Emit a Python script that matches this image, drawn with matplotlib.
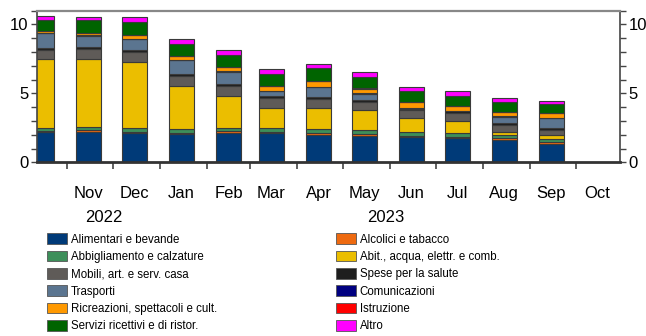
import datetime as dt
import matplotlib
matplotlib.use("Agg")
import matplotlib.pyplot as plt
import matplotlib.dates as mdates
import matplotlib.transforms as mtransforms
from matplotlib import font_manager
from matplotlib.patches import Patch
from matplotlib.ticker import MultipleLocator, FixedLocator, FixedFormatter, NullFormatter

# Condensed sans if available
_names = {f.name for f in font_manager.fontManager.ttflist}
FONT = "Liberation Sans Narrow" if "Liberation Sans Narrow" in _names else "Liberation Sans"
plt.rcParams["font.family"] = [FONT, "DejaVu Sans"]

# Months of the bars (Oct 2022 - Sep 2023)
bar_months = [(2022, 10), (2022, 11), (2022, 12), (2023, 1), (2023, 2), (2023, 3),
              (2023, 4), (2023, 5), (2023, 6), (2023, 7), (2023, 8), (2023, 9)]

# Month labels on the axis (Nov 2022 - Oct 2023)
label_months = [(2022, 11), (2022, 12), (2023, 1), (2023, 2), (2023, 3), (2023, 4),
                (2023, 5), (2023, 6), (2023, 7), (2023, 8), (2023, 9), (2023, 10)]
month_labels = ["Nov", "Dec", "Jan", "Feb", "Mar", "Apr", "May", "Jun", "Jul", "Aug", "Sep", "Oct"]
year_labels = ["2022", "2023"]

# Contributions by component (percentage points), stacked bottom to top
alimentari = [2.18, 2.21, 2.11, 2.04, 2.11, 2.09, 1.99, 1.92, 1.80, 1.75, 1.63, 1.36]
alcolici = [0.12, 0.10, 0.12, 0.10, 0.15, 0.14, 0.12, 0.12, 0.12, 0.12, 0.10, 0.12]
abbigliamento = [0.19, 0.26, 0.24, 0.29, 0.26, 0.29, 0.27, 0.29, 0.30, 0.24, 0.24, 0.19]
abitazione = [5.00, 4.93, 4.80, 3.08, 2.26, 1.44, 1.53, 1.46, 1.02, 0.92, 0.24, 0.30]
mobili = [0.63, 0.73, 0.70, 0.78, 0.75, 0.72, 0.68, 0.60, 0.54, 0.54, 0.51, 0.38]
salute = [0.15, 0.12, 0.15, 0.14, 0.13, 0.13, 0.14, 0.15, 0.12, 0.12, 0.15, 0.12]
trasporti = [1.11, 0.85, 0.80, 0.97, 0.92, 0.36, 0.73, 0.44, 0.05, 0.04, 0.44, 0.72]
comunicazioni = [0.02, 0.02, 0.02, 0.02, 0.02, 0.02, 0.02, 0.02, 0.02, 0.02, 0.02, 0.02]
ricreazioni = [0.12, 0.17, 0.27, 0.27, 0.29, 0.34, 0.41, 0.34, 0.41, 0.34, 0.32, 0.34]
istruzione = [0.02, 0.02, 0.02, 0.02, 0.02, 0.02, 0.02, 0.02, 0.02, 0.02, 0.02, 0.02]
servizi = [0.80, 0.95, 0.92, 0.87, 0.90, 0.87, 0.90, 0.82, 0.75, 0.73, 0.68, 0.63]
altro = [0.29, 0.21, 0.36, 0.34, 0.31, 0.32, 0.29, 0.34, 0.33, 0.34, 0.29, 0.27]

series = [
    ("Alimentari e bevande", alimentari, "#003a78"),
    ("Alcolici e tabacco", alcolici, "#ee6a10"),
    ("Abbigliamento e calzature", abbigliamento, "#3d8f5a"),
    ("Abit., acqua, elettr. e comb.", abitazione, "#ebbe00"),
    ("Mobili, art. e serv. casa", mobili, "#5f5b58"),
    ("Spese per la salute", salute, "#1e1e1e"),
    ("Trasporti", trasporti, "#5b7590"),
    ("Comunicazioni", comunicazioni, "#000080"),
    ("Ricreazioni, spettacoli e cult.", ricreazioni, "#ff9900"),
    ("Istruzione", istruzione, "#ff0000"),
    ("Servizi ricettivi e di ristor.", servizi, "#006400"),
    ("Altro", altro, "#ff00ff"),
]

W, H = 646, 336
fig = plt.figure(figsize=(W / 100, H / 100), dpi=100)
ax = fig.add_axes([37 / W, 1 - 162.3 / H, (620 - 37) / W, (162.3 - 10.7) / H])

x = [mdates.date2num(dt.datetime(y, m, 15)) for y, m in bar_months]
bottom = [0.0] * len(x)
for name, vals, color in series:
    ax.bar(x, vals, width=16.5, bottom=bottom, color=color, edgecolor="#3a3a3a",
           linewidth=0.8, label=name, zorder=2)
    bottom = [b + v for b, v in zip(bottom, vals)]

ax.set_xlim(mdates.date2num(dt.datetime(2022, 10, 12)), mdates.date2num(dt.datetime(2023, 10, 30)))
ax.set_ylim(0, 11)

# Axis frame
for side in ("left", "right"):
    ax.spines[side].set_color("#444444")
    ax.spines[side].set_linewidth(1.2)
ax.spines["top"].set_color("#888888")
ax.spines["top"].set_linewidth(1.6)
ax.spines["bottom"].set_color("#333333")
ax.spines["bottom"].set_linewidth(2.0)

# Y axis: labels on both sides, ticks every unit
ax.yaxis.set_major_locator(FixedLocator([0, 5, 10]))
ax.yaxis.set_minor_locator(MultipleLocator(1))
ax.tick_params(axis="y", which="both", left=True, right=True, labelleft=True,
               labelright=True, direction="out", length=4, width=1.0,
               color="#444444", labelsize=12, pad=2)

# X axis: ticks at month starts, labels at mid-month
starts = [mdates.date2num(dt.datetime(2022 + (9 + i) // 12, (9 + i) % 12 + 1, 1)) for i in range(14)]
ax.xaxis.set_major_locator(FixedLocator(starts))
ax.xaxis.set_major_formatter(NullFormatter())
mids = [mdates.date2num(dt.datetime(y, m, 15)) for y, m in label_months]
ax.xaxis.set_minor_locator(FixedLocator(mids))
ax.xaxis.set_minor_formatter(FixedFormatter(month_labels))
ax.tick_params(axis="x", which="major", direction="out", length=5, width=1.2, color="#444444")
ax.tick_params(axis="x", which="minor", length=0, labelsize=12, pad=17)

trans = mtransforms.blended_transform_factory(ax.transData, ax.transAxes)
year_pos = [dt.datetime(2022, 11, 25), dt.datetime(2023, 5, 29)]
for lbl, d in zip(year_labels, year_pos):
    ax.text(mdates.date2num(d), -0.365, lbl, transform=trans, ha="center", va="center",
            fontsize=12)

# Legend in two columns below the chart
handles = {name: Patch(facecolor=color, edgecolor="#555555", linewidth=0.6)
           for name, _, color in series}
left_col = [s[0] for s in series[0::2]]
right_col = [s[0] for s in series[1::2]]
for col, x0 in ((left_col, 47), (right_col, 336)):
    fig.legend([handles[n] for n in col], col, loc="upper left",
               bbox_to_anchor=(x0 / W, 1 - 233.5 / H), frameon=False, fontsize=8.3,
               borderpad=0, borderaxespad=0, handlelength=1.74, handleheight=1.04,
               handletextpad=0.3, labelspacing=0.44)

fig.savefig("out.png", dpi=100)
